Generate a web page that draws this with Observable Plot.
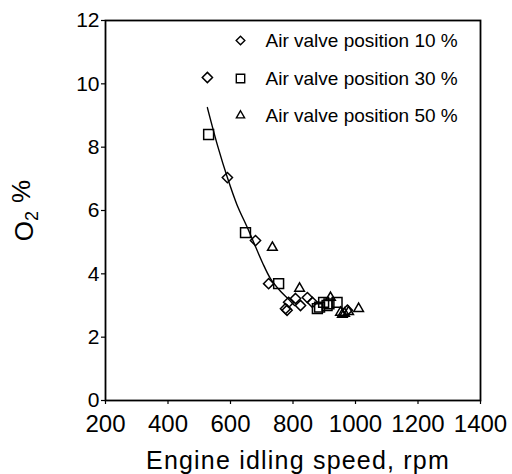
<!DOCTYPE html>
<html>
<head>
<meta charset="utf-8">
<script src="https://cdn.jsdelivr.net/npm/d3@7"></script>
<script src="https://cdn.jsdelivr.net/npm/@observablehq/plot@0.6"></script>
<style>
  html, body { margin: 0; padding: 0; background: #fff; }
  #chart svg { display: block; }
</style>
</head>
<body>
<div id="chart"></div>
<script>
// Series names (legend)
const seriesNames = ["Air valve position 10 %", "Air valve position 30 %", "Air valve position 50 %"];

// Air valve position 10 % (diamonds)
const rpm10 = [526, 590, 680, 722, 776, 781, 786, 808, 824, 846, 862, 974];
const o2_10 = [10.2, 7.04, 5.05, 3.69, 2.9, 2.85, 3.1, 3.22, 3.0, 3.25, 3.1, 2.85];

// Air valve position 30 % (squares)
const rpm30 = [530, 648, 754, 878, 885, 898, 909, 915, 941];
const o2_30 = [8.4, 5.3, 3.69, 2.9, 2.95, 3.1, 3.0, 3.05, 3.1];

// Air valve position 50 % (triangles)
const rpm50 = [734, 821, 920, 952, 958, 965, 978, 1010];
const o2_50 = [4.83, 3.54, 3.25, 2.78, 2.72, 2.75, 2.8, 2.9];

// Fitted curve
const fitRpm = [526, 560, 590, 620, 658, 702, 728, 760, 786, 805];
const fitO2  = [9.25, 8.0, 7.04, 6.2, 5.37, 4.36, 3.85, 3.45, 3.2, 3.0];

// Axis ticks
const xTicks = [200, 400, 600, 800, 1000, 1200, 1400];
const yTicks = [0, 2, 4, 6, 8, 10, 12];

const xLabel = "Engine idling speed, rpm";
const yLabel = "O2 %";

const toRows = (xs, ys) => xs.map((x, i) => ({x, y: ys[i]}));
const d10 = toRows(rpm10, o2_10);
const d30 = toRows(rpm30, o2_30);
const d50 = toRows(rpm50, o2_50);
const fit = toRows(fitRpm, fitO2);

const symbols = ["diamond2", "square2", "triangle2"];
const radii = [4.6, 6.3, 4.6];
const datasets = [d10, d30, d50];

const legendMarks = [];
const rowDy = [20, 58, 95];
seriesNames.forEach((name, i) => {
  legendMarks.push(Plot.dot([name], {frameAnchor: "top-left", dx: 135, dy: rowDy[i], symbol: symbols[i], r: radii[i] * 0.85, stroke: "black", strokeWidth: 1.4, fill: "white"}));
  legendMarks.push(Plot.text([name], {frameAnchor: "top-left", dx: 160, dy: rowDy[i], text: d => d, textAnchor: "start", lineAnchor: "middle", fontSize: 19, fill: "black"}));
});

const plot = Plot.plot({
  width: 512,
  height: 474,
  marginLeft: 105,
  marginRight: 32,
  marginTop: 20,
  marginBottom: 74,
  style: {fontFamily: "'Liberation Sans', Arial, sans-serif", fontSize: "21px", color: "black", background: "white"},
  x: {domain: [200, 1400]},
  y: {domain: [0, 12]},
  marks: [
    Plot.axisY({ticks: yTicks, tickSize: 4, tickPadding: 2, fontSize: 21, label: null, strokeWidth: 1.2, tickFormat: d3.format("d")}),
    Plot.axisX({ticks: xTicks, tickSize: 4, tickPadding: 10, fontSize: 24, label: null, strokeWidth: 1.2, tickFormat: d3.format("d")}),
    Plot.frame({stroke: "black", strokeWidth: 1.8}),
    Plot.line(fit, {x: "x", y: "y", stroke: "black", strokeWidth: 1.4, curve: "catmull-rom"}),
    ...datasets.map((d, i) => Plot.dot(d, {x: "x", y: "y", symbol: () => symbols[i], r: radii[i], stroke: "black", strokeWidth: 1.5, fill: "none"})),
    ...legendMarks,
    Plot.text([xLabel], {frameAnchor: "bottom", dy: 60, text: d => d, fontSize: 25, textAnchor: "middle", lineAnchor: "middle", fill: "black", dx: 5}),
    Plot.text([yLabel], {frameAnchor: "left", dx: -81, dy: 0, text: d => d, fontSize: 26, rotate: -90, textAnchor: "middle", lineAnchor: "middle", fill: "black"})
  ]
});
document.getElementById("chart").appendChild(plot);

// Typographic tweaks: letter spacing on the x label, real subscript on the y label
d3.select(plot).selectAll("text").each(function() {
  const t = d3.select(this);
  if (t.text() === xLabel) t.attr("letter-spacing", "1.2px");
  if (t.text() === yLabel) {
    t.text(null);
    t.append("tspan").text("O");
    t.append("tspan").attr("dy", "0.3em").attr("font-size", "18px").text("2");
    t.append("tspan").attr("dy", "-0.3em").attr("dx", "8").text("%");
  }
});
</script>
</body>
</html>
